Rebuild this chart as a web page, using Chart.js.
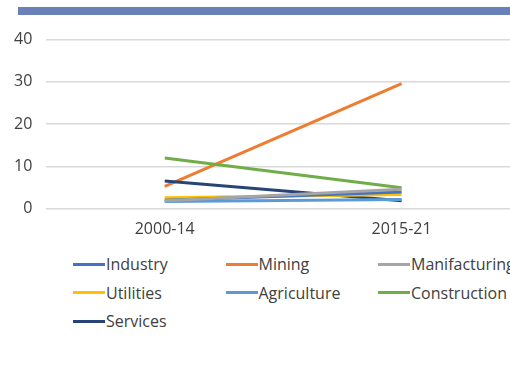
<!DOCTYPE html>
<html>
<head>
<meta charset="utf-8">
<script src="https://cdn.jsdelivr.net/npm/chart.js@4/dist/chart.umd.min.js"></script>
<style>
  html, body { margin: 0; padding: 0; background: #fff; overflow: hidden; }
  body { width: 510px; height: 373px; position: relative; font-family: 'Open Sans', sans-serif; }
  #band { position: absolute; left: 18px; top: 7px; width: 500px; height: 8px; background: #6a80b9; }
  #box { position: absolute; left: 0; top: 16px; width: 530px; height: 226px; }
  #legend { position: absolute; left: 73px; top: 253px; width: 470px; }
  .item { position: absolute; display: flex; align-items: center; font-size: 16px; color: #404040; white-space: nowrap; }
  .item span { display: inline-block; width: 32px; height: 3px; margin-right: 1px; }
</style>
</head>
<body>
<div id="band"></div>
<div id="box"><canvas id="myChart"></canvas></div>
<div id="legend"></div>
<script>
'use strict';

let periods = ['2000-14', '2015-21'];
let sectors = ['Industry', 'Mining', 'Manifacturing', 'Utilities', 'Agriculture', 'Construction', 'Services'];
let colors = ['#4472c4', '#ed7d31', '#a5a5a5', '#ffc000', '#5b9bd5', '#70ad47', '#264478'];

let industry = [2.0, 4.0];
let mining = [5.3, 29.6];
let manifacturing = [1.9, 4.6];
let utilities = [2.6, 3.4];
let agriculture = [1.7, 2.2];
let construction = [12.0, 5.0];
let services = [6.6, 1.9];

let values = [industry, mining, manifacturing, utilities, agriculture, construction, services];
let yTicks = [0, 10, 20, 30, 40];

let sets = [];
for (let i = 0; i < sectors.length; i++) {
  sets.push({
    label: sectors[i],
    data: values[i],
    borderColor: colors[i],
    backgroundColor: colors[i],
    borderWidth: 3,
    pointRadius: 0,
    tension: 0
  });
}
// draw order: lowest lines first so the upper ones sit on top
let order = [2, 4, 0, 3, 6, 5, 1];
let drawSets = order.map(i => sets[i]);

let ctx = document.getElementById('myChart').getContext('2d');
let myChart = new Chart(ctx, {
  type: 'line',
  data: { labels: periods, datasets: drawSets },
  options: {
    responsive: true,
    maintainAspectRatio: false,
    animation: false,
    layout: { padding: { top: 4, right: 10, left: 0, bottom: 0 } },
    plugins: { legend: { display: false }, tooltip: { enabled: false } },
    scales: {
      x: {
        offset: true,
        grid: { display: false },
        border: { display: false },
        ticks: { color: '#404040', font: { family: 'Open Sans', size: 16 }, padding: 3 }
      },
      y: {
        min: yTicks[0],
        max: yTicks[yTicks.length - 1],
        afterBuildTicks: axis => { axis.ticks = yTicks.map(v => ({ value: v })); },
        grid: { color: '#d9d9d9', lineWidth: 1.5, drawTicks: false },
        border: { display: false },
        ticks: { color: '#404040', font: { family: 'Open Sans', size: 16 }, padding: 14 }
      }
    }
  }
});

// legend laid out in three columns
let legend = document.getElementById('legend');
for (let i = 0; i < sectors.length; i++) {
  let item = document.createElement('div');
  item.className = 'item';
  item.style.left = (i % 3) * 152.5 + 'px';
  item.style.top = Math.floor(i / 3) * 28.5 + 'px';
  let line = document.createElement('span');
  line.style.background = colors[i];
  item.appendChild(line);
  item.appendChild(document.createTextNode(sectors[i]));
  legend.appendChild(item);
}
</script>
</body>
</html>
